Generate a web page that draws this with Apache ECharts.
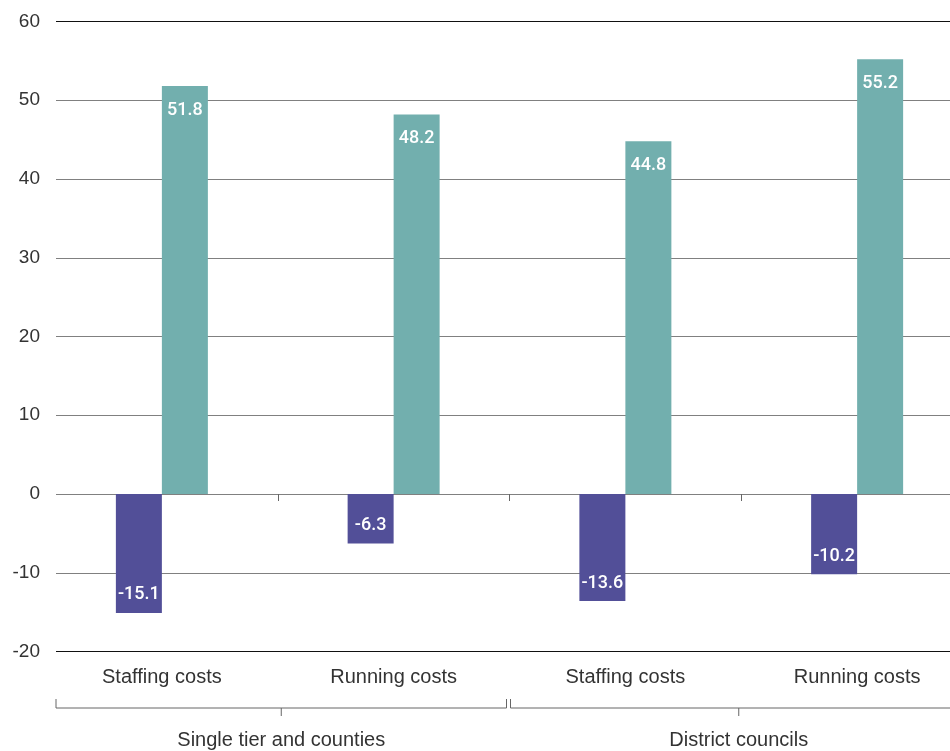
<!DOCTYPE html>
<html>
<head>
<meta charset="utf-8">
<script src="https://cdn.jsdelivr.net/npm/echarts@6/dist/echarts.min.js"></script>
<style>
  html, body { margin: 0; padding: 0; background: #ffffff; }
  #chart { width: 950px; height: 751px; }
</style>
</head>
<body>
<div id="chart"></div>
<script>
// Categories, groups and values
const categories = ['Staffing costs', 'Running costs', 'Staffing costs', 'Running costs'];
const groups = ['Single tier and counties', 'District councils'];
const groupSizes = [2, 2];
const lowValues = [-15.1, -6.3, -13.6, -10.2];
const highValues = [51.8, 48.2, 44.8, 55.2];
const yMin = -20;
const yMax = 60;
const yStep = 10;

// Layout
const W = 950, H = 751;
const TOP = 21.5;
const BOTTOM = H - 651.5;
const AXIS_LEFT = 56;          // where the gridlines start
const CAT_LEFT = 46;           // where the category bands start
const CAT_WIDTH = 927;         // category bands run past the right edge
const TEXT = '#333333';
const GRID_GREY = '#808080';
const FONT = 'Liberation Sans, Arial, sans-serif';

const nLines = Math.round((yMax - yMin) / yStep) + 1;
const splitColors = [];
for (let i = 0; i < nLines; i++) {
  splitColors.push(i === 0 || i === nLines - 1 ? '#111111' : GRID_GREY);
}

const chart = echarts.init(document.getElementById('chart'), null, { renderer: 'canvas' });

const option = {
  animation: false,
  backgroundColor: '#ffffff',
  grid: [
    { left: AXIS_LEFT, right: 0, top: TOP, bottom: BOTTOM, outerBoundsMode: 'none' },
    { left: CAT_LEFT, width: CAT_WIDTH, top: TOP, bottom: BOTTOM, outerBoundsMode: 'none' }
  ],
  xAxis: [
    // ticks between categories along the zero line
    {
      type: 'category', gridIndex: 1, data: categories, position: 'bottom',
      axisLine: { show: false, onZero: true },
      axisTick: {
        show: true, length: 7, interval: (i) => i !== 0,
        lineStyle: { color: '#666666', width: 1 }
      },
      axisLabel: { show: false },
      splitLine: { show: false }
    },
    // category names under the plot
    {
      type: 'category', gridIndex: 1, data: categories, position: 'bottom',
      axisLine: { show: false, onZero: false },
      axisTick: { show: false },
      axisLabel: { show: true, color: TEXT, fontFamily: FONT, fontSize: 20, margin: 16 },
      splitLine: { show: false }
    },
    { type: 'value', gridIndex: 0, show: false, min: 0, max: 1 }
  ],
  yAxis: [
    {
      type: 'value', gridIndex: 1, min: yMin, max: yMax, interval: yStep, show: false
    },
    {
      type: 'value', gridIndex: 0, min: yMin, max: yMax, interval: yStep,
      axisLine: { show: false },
      axisTick: { show: false },
      axisLabel: { color: TEXT, fontFamily: FONT, fontSize: 19, margin: 16 },
      splitLine: { show: true, lineStyle: { color: splitColors, width: 1 } }
    }
  ],
  series: [
    {
      type: 'bar', xAxisIndex: 0, yAxisIndex: 0,
      data: lowValues, barWidth: 46, barGap: '0%',
      itemStyle: { color: '#524F98' },
      label: {
        show: true, position: 'insideBottom', distance: 9,
        color: '#ffffff', fontFamily: 'Roboto, sans-serif', fontWeight: 500, fontSize: 18,
        formatter: (p) => p.value.toFixed(1)
      },
      z: 3
    },
    {
      type: 'bar', xAxisIndex: 0, yAxisIndex: 0,
      data: highValues, barWidth: 46, barGap: '0%',
      itemStyle: { color: '#72AFAE' },
      label: {
        show: true, position: 'insideTop', distance: 15,
        color: '#ffffff', fontFamily: 'Roboto, sans-serif', fontWeight: 500, fontSize: 18,
        formatter: (p) => p.value.toFixed(1)
      },
      z: 3
    }
  ]
};

chart.setOption(option);

// Group brackets under the category names
function groupBrackets() {
  const first = chart.convertToPixel({ xAxisIndex: 0 }, 0);
  const second = chart.convertToPixel({ xAxisIndex: 0 }, 1);
  const band = second - first;
  const yLine = (H - BOTTOM) + 56.5;
  const yText = (H - BOTTOM) + 89;
  const stroke = { stroke: '#666666', lineWidth: 1 };
  const elements = [];
  let start = 0;
  groups.forEach((name, g) => {
    const n = groupSizes[g];
    const firstCenter = chart.convertToPixel({ xAxisIndex: 0 }, start);
    const lastCenter = chart.convertToPixel({ xAxisIndex: 0 }, start + n - 1);
    const leftEdge = firstCenter - band / 2;
    const rightEdge = lastCenter + band / 2;
    const x0 = g === 0 ? AXIS_LEFT : leftEdge + 1;
    const x1 = g === groups.length - 1 ? rightEdge - 6 : rightEdge - 3;
    const mid = (x0 + x1) / 2;
    elements.push(
      { type: 'line', shape: { x1: x0, y1: yLine, x2: x1, y2: yLine }, style: stroke, silent: true },
      { type: 'line', shape: { x1: x0, y1: yLine - 9, x2: x0, y2: yLine }, style: stroke, silent: true },
      { type: 'line', shape: { x1: x1, y1: yLine - 9, x2: x1, y2: yLine }, style: stroke, silent: true },
      { type: 'line', shape: { x1: mid, y1: yLine, x2: mid, y2: yLine + 8 }, style: stroke, silent: true },
      {
        type: 'text', x: mid, y: yText, silent: true,
        style: { text: name, fill: TEXT, font: '20px ' + FONT, textAlign: 'center', textVerticalAlign: 'middle' }
      }
    );
    start += n;
  });
  return elements;
}

chart.setOption({ graphic: groupBrackets() });
</script>
</body>
</html>
